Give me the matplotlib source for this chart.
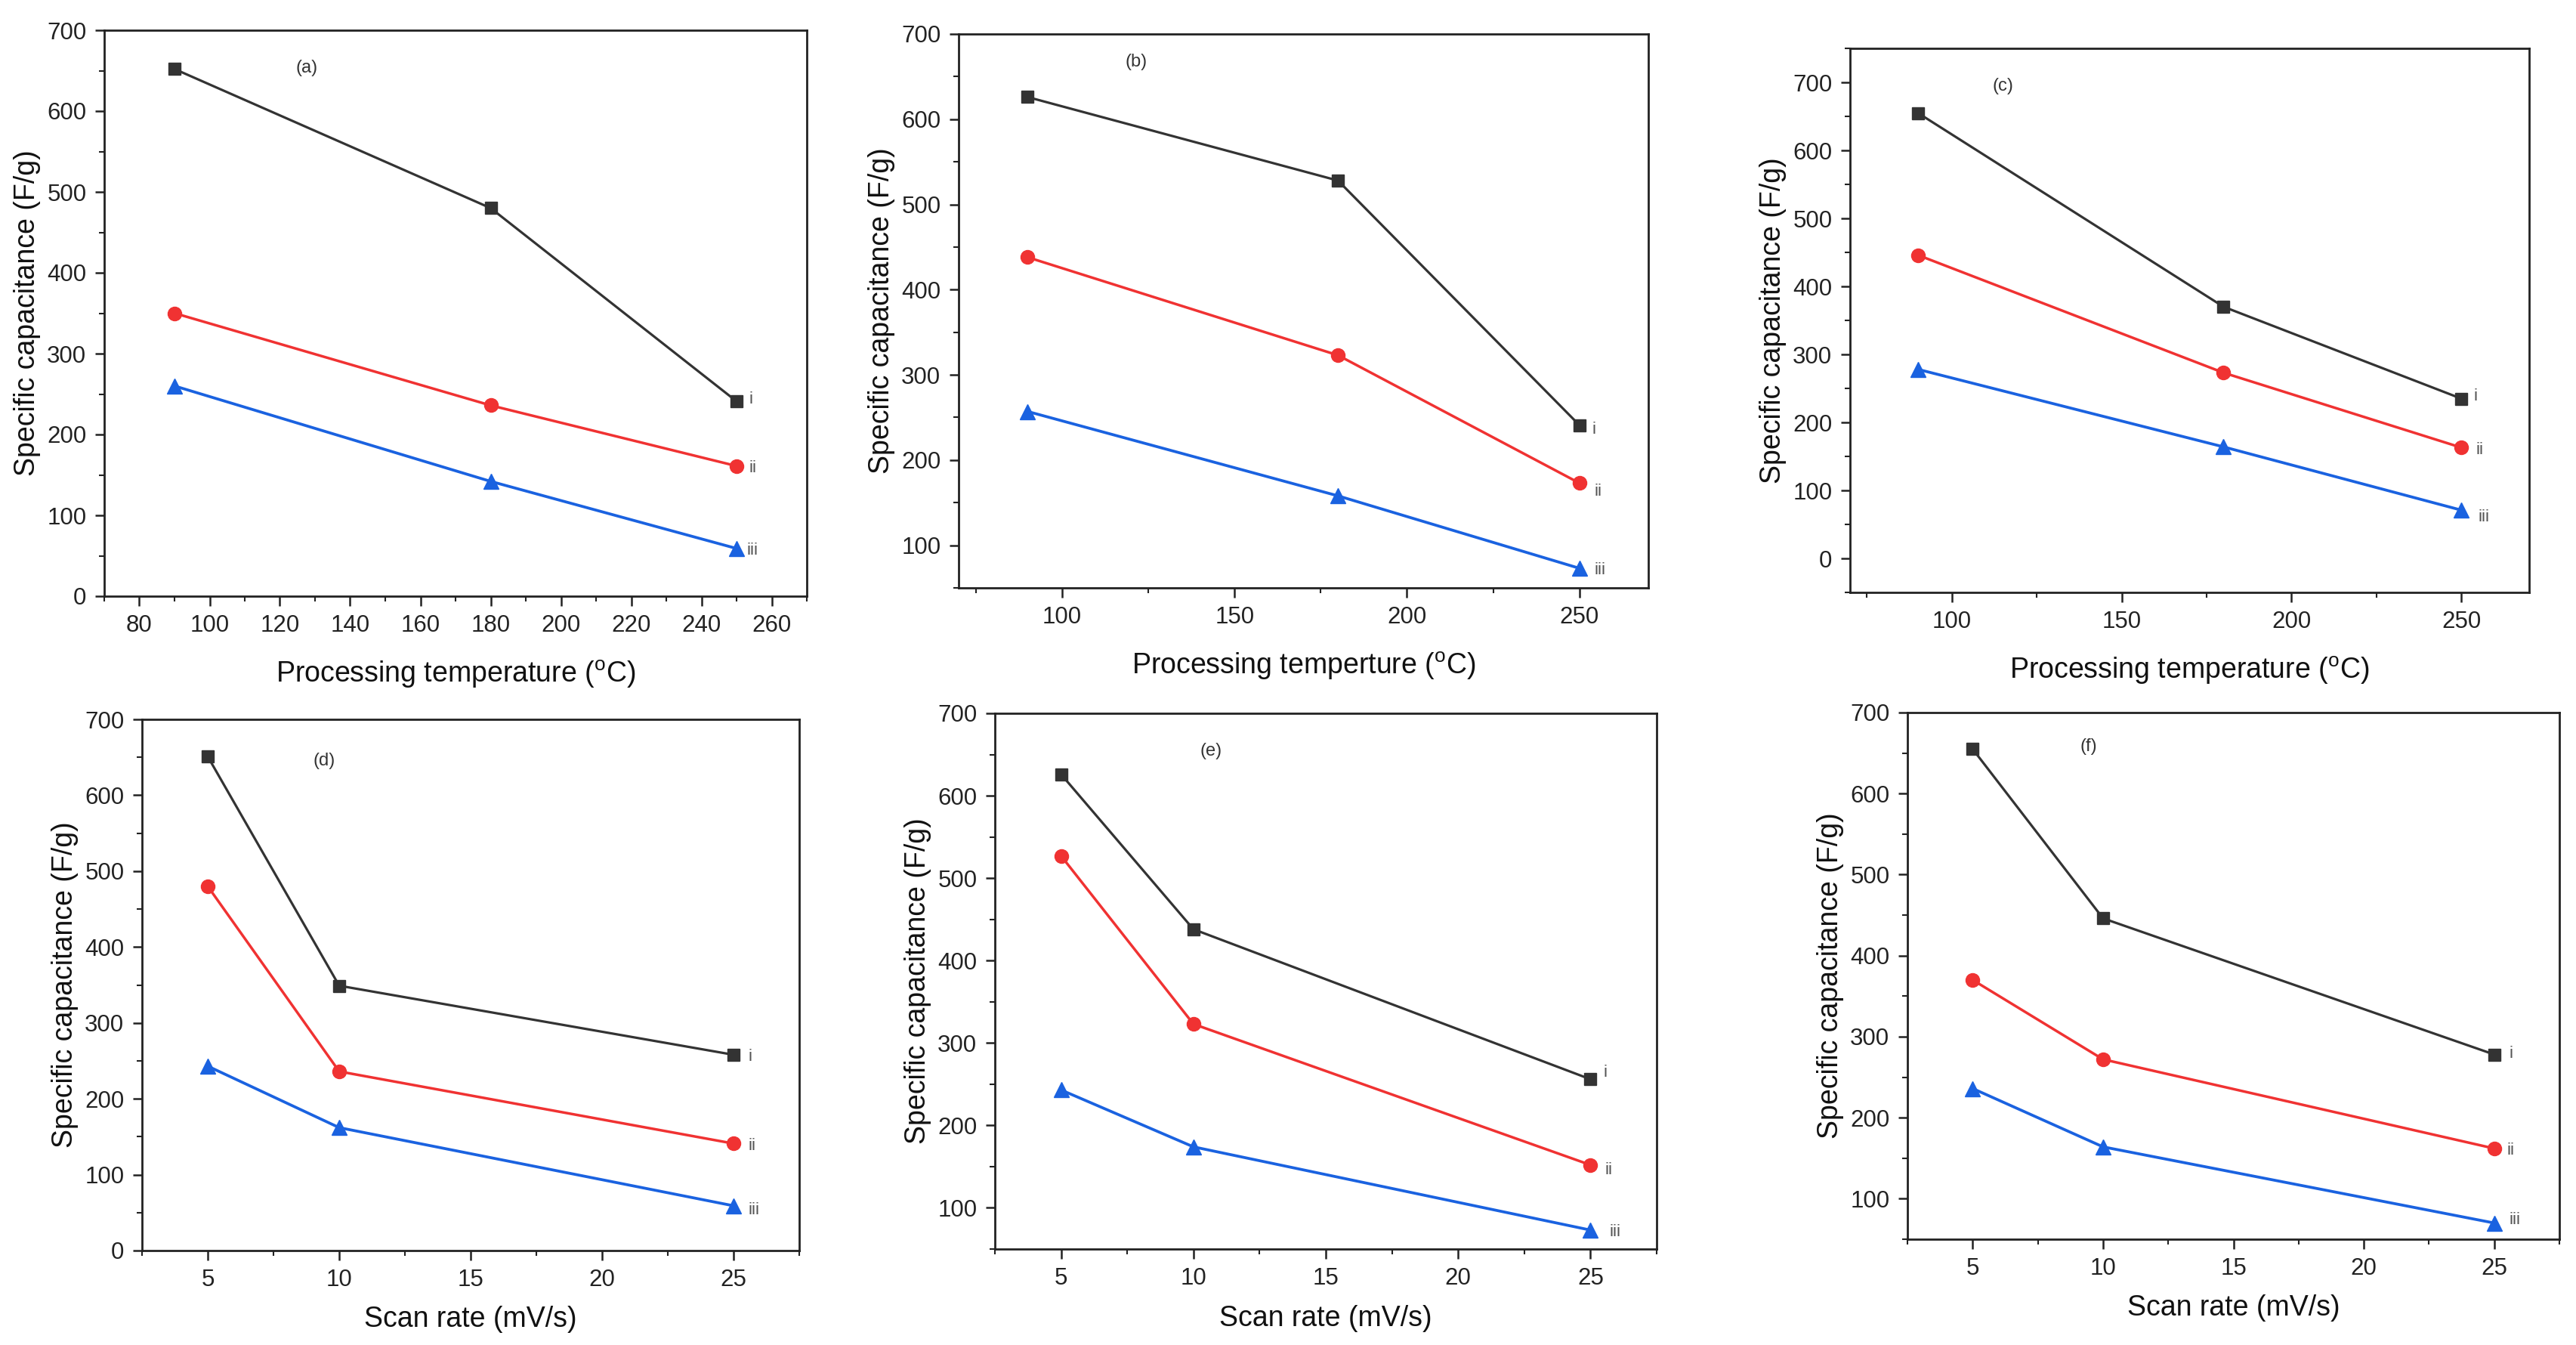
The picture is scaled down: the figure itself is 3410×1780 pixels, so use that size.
import matplotlib
matplotlib.use("Agg")
from matplotlib import pyplot as plt
from matplotlib.ticker import MultipleLocator

plt.rcParams['font.family'] = ['Liberation Sans', 'DejaVu Sans']
plt.rcParams['mathtext.fontset'] = 'custom'
plt.rcParams['mathtext.rm'] = 'Liberation Sans'

# x values
temps = [90, 180, 250]
rates = [5, 10, 25]

# specific capacitance (F/g): series i, ii, iii
a_i = [652, 480, 241]
a_ii = [350, 236, 161]
a_iii = [260, 142, 59]

b_i = [626, 528, 241]
b_ii = [438, 323, 173]
b_iii = [257, 158, 73]

c_i = [655, 370, 235]
c_ii = [446, 273, 163]
c_iii = [278, 164, 71]

d_i = [651, 349, 258]
d_ii = [480, 236, 141]
d_iii = [243, 162, 59]

e_i = [626, 438, 256]
e_ii = [527, 323, 152]
e_iii = [243, 174, 73]

f_i = [655, 446, 278]
f_ii = [370, 272, 162]
f_iii = [236, 164, 70]

series_names = ['i', 'ii', 'iii']
panel_tags = ['(a)', '(b)', '(c)', '(d)', '(e)', '(f)']

W, H = 3410, 1780
fig = plt.figure(figsize=(W / 100, H / 100), dpi=100)

# pixel boxes: left, right, top, bottom
boxes = [
    (138, 1068, 40, 789),
    (1269, 2182, 45, 778),
    (2449, 3348, 64, 784),
    (188, 1058, 952, 1655),
    (1317, 2193, 944, 1653),
    (2525, 3388, 943, 1640),
]

panels = [
    (temps, [a_i, a_ii, a_iii], (70, 270), (0, 700), 20, 10,
     r'Processing temperature ($^{\rm o}$C)', (0.288, 0.933), 21),
    (temps, [b_i, b_ii, b_iii], (70, 270), (50, 700), 50, 25,
     r'Processing temperture ($^{\rm o}$C)', (0.257, 0.949), 21),
    (temps, [c_i, c_ii, c_iii], (70, 270), (-50, 750), 50, 25,
     r'Processing temperature ($^{\rm o}$C)', (0.225, 0.930), 21),
    (rates, [d_i, d_ii, d_iii], (2.5, 27.5), (0, 700), 5, 2.5,
     'Scan rate (mV/s)', (0.277, 0.922), 14),
    (rates, [e_i, e_ii, e_iii], (2.5, 27.5), (50, 700), 5, 2.5,
     'Scan rate (mV/s)', (0.326, 0.929), 15),
    (rates, [f_i, f_ii, f_iii], (2.5, 27.5), (50, 700), 5, 2.5,
     'Scan rate (mV/s)', (0.278, 0.935), 14),
]

styles = [
    dict(color='#333333', marker='s', markersize=12, linewidth=2.3),
    dict(color='#f03232', marker='o', markersize=13, linewidth=2.5),
    dict(color='#1a62e0', marker='^', markersize=15, linewidth=2.7),
]

# small label offsets (points) for i / ii / iii per panel
label_offsets = [
    [(12, 2), (12, -2), (10, -2)],
    [(12, -4), (14, -8), (14, -2)],
    [(12, 2), (14, -2), (16, -7)],
    [(14, -2), (14, -2), (14, -4)],
    [(12, 6), (14, -5), (18, -2)],
    [(14, 1), (12, -2), (14, 3)],
]

for k, ((xs, ys_list, xlim, ylim, xmaj, xmin, xlabel, tagpos, xpad), box) in enumerate(zip(panels, boxes)):
    l, r, t, b = box
    ax = fig.add_axes([l / W, 1 - b / H, (r - l) / W, (b - t) / H])
    for ys, st, name, off in zip(ys_list, styles, series_names, label_offsets[k]):
        ax.plot(xs, ys, **st)
        ax.annotate(name, (xs[-1], ys[-1]), xytext=off, textcoords='offset points',
                    fontsize=16, color='#555555', va='center', ha='left')
    ax.set_xlim(*xlim)
    ax.set_ylim(*ylim)
    ax.xaxis.set_major_locator(MultipleLocator(xmaj))
    ax.xaxis.set_minor_locator(MultipleLocator(xmin))
    ax.yaxis.set_major_locator(MultipleLocator(100))
    ax.yaxis.set_minor_locator(MultipleLocator(50))
    ax.tick_params(which='major', direction='out', length=9, width=1.8,
                   labelsize=22.5, colors='#222222', pad=8)
    ax.tick_params(which='minor', direction='out', length=5, width=1.5, colors='#222222')
    ax.tick_params(top=False, right=False, which='both')
    for sp in ax.spines.values():
        sp.set_linewidth(2.0)
        sp.set_color('#222222')
    ax.set_xlabel(xlabel, fontsize=27, color='#111111', labelpad=xpad)
    ax.set_ylabel('Specific capacitance (F/g)', fontsize=27, color='#111111', labelpad=6)
    ax.text(tagpos[0], tagpos[1], panel_tags[k], transform=ax.transAxes,
            fontsize=17, color='#333333', ha='center', va='center')

fig.savefig('out.png', dpi=100)
